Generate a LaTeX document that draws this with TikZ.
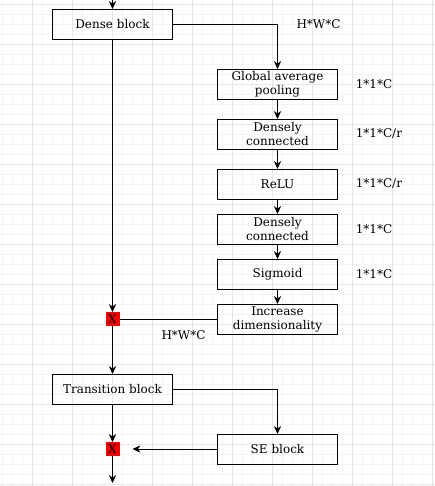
\documentclass[tikz,border=0pt]{standalone}
\usepackage{fontspec}
\setmainfont{DejaVu Serif}
\usepackage{xcolor}
\usetikzlibrary{arrows.meta,positioning}

\definecolor{gridminor}{HTML}{F4F4F4}
\definecolor{gridmajor}{HTML}{E6E6E6}
\definecolor{multred}{HTML}{F20000}

\begin{document}
\begin{tikzpicture}[
    x=0.75pt, y=-0.75pt,
    font=\fontsize{9}{10.5}\selectfont,
    box/.style={rectangle, draw, line width=0.75pt, minimum width=90pt, minimum height=22.5pt, inner sep=0pt, outer sep=0pt, align=center},
    mult/.style={rectangle, fill=multred, minimum size=10.5pt, inner sep=0pt, outer sep=0pt},
    dim/.style={inner sep=0pt},
    arrow/.style={-{Stealth[length=6pt,width=5.5pt]}, line width=0.75pt},
    link/.style={line width=0.75pt}
]
    \useasboundingbox (0,0) rectangle (435,486);
    % background grid
    \foreach \g in {2.5,12.5,...,432.5} \draw[gridminor, line width=0.6pt] (\g,0) -- (\g,486);
    \foreach \g in {4.5,14.5,...,484.5} \draw[gridminor, line width=0.6pt] (0,\g) -- (435,\g);
    \foreach \g in {32.5,72.5,...,432.5} \draw[gridmajor, line width=0.6pt] (\g,0) -- (\g,486);
    \foreach \g in {4.5,44.5,...,484.5} \draw[gridmajor, line width=0.6pt] (0,\g) -- (435,\g);

    \node[box] (dense) at (112.5,24) {Dense block};
    \node[box] (gap) at (277.5,84) {Global average\\pooling};
    \node[box, below=15pt of gap] (fc1) {Densely\\connected};
    \node[box, below=15pt of fc1] (relu) {ReLU};
    \node[box, below=11.25pt of relu] (fc2) {Densely\\connected};
    \node[box, below=11.25pt of fc2] (sig) {Sigmoid};
    \node[box, below=11.25pt of sig] (incr) {Increase\\dimensionality};
    \node[mult] (x1) at (dense |- incr) {X};
    \node[box] (trans) at (112.5,389) {Transition block};
    \node[box] (se) at (277.5,449) {SE block};
    \node[mult] (x2) at (dense |- se) {X};

    \node[dim] (hwc1) at (318.5,24) {H*W*C};
    \node[dim] (hwc2) at (183.5,335.5) {H*W*C};
    \node[dim, right=13.5pt of gap] (d1) {1*1*C};
    \node[dim, right=13.5pt of fc1] (d2) {1*1*C/r};
    \node[dim, right=13.5pt of relu] (d3) {1*1*C/r};
    \node[dim, right=13.5pt of fc2] (d4) {1*1*C};
    \node[dim, right=13.5pt of sig] (d5) {1*1*C};

    \coordinate (in) at (112.5,0);
    \coordinate (out) at (112.5,483);

    \draw[arrow] (in) -- (dense);
    \draw[arrow] (dense) -| (gap);
    \draw[arrow] (gap) -- (fc1);
    \draw[arrow] (fc1) -- (relu);
    \draw[arrow] (relu) -- (fc2);
    \draw[arrow] (fc2) -- (sig);
    \draw[arrow] (sig) -- (incr);
    \draw[arrow] (dense) -- (x1);
    \draw[link] (incr) -- (x1);
    \draw[arrow] (x1) -- (trans);
    \draw[arrow] (trans) -| (se);
    \draw[arrow] (trans) -- (x2);
    \draw[arrow, shorten >=9.75pt] (se) -- (x2);
    \draw[arrow] (x2) -- (out);
\end{tikzpicture}
\end{document}
